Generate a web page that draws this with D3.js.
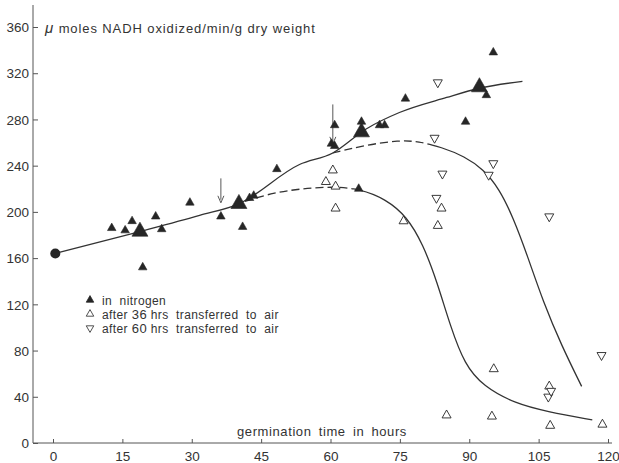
<!DOCTYPE html>
<html>
<head>
<meta charset="utf-8">
<script src="https://cdn.jsdelivr.net/npm/d3@7"></script>
<style>
  html, body { margin: 0; padding: 0; background: #fff; }
  svg text { font-family: "Liberation Sans", Arial, sans-serif; fill: #333; }
</style>
</head>
<body>
<div id="chart"></div>
<script>
// germination time (hours) / umol NADH oxidized per min per g dry weight
const start = [[0.5, 164]]
const nitrogen = [
  [12.7, 186], [15.6, 184], [17.1, 192], [19.4, 152], [22.2, 196], [23.5, 185],
  [29.6, 208], [36.3, 196], [41.0, 187], [42.5, 212], [43.4, 214], [48.4, 237],
  [60.2, 259], [60.9, 257], [60.9, 275], [66.1, 220], [66.7, 278], [70.6, 275],
  [71.7, 275], [76.2, 298], [89.2, 278], [93.7, 301], [95.2, 338]
]
const nitrogenMeans = [[18.8, 183], [40.2, 207], [66.7, 269], [92.2, 308]]
const air36 = [
  [59.0, 226], [60.5, 236], [61.1, 222], [61.1, 203], [75.8, 192], [83.2, 188],
  [84.0, 203], [85.1, 24], [94.9, 23], [95.3, 64], [107.3, 49], [107.5, 15], [118.8, 16]
]
const air60 = [
  [82.5, 264], [82.9, 212], [83.2, 312], [84.2, 233], [94.2, 232], [95.2, 242],
  [107.1, 40], [107.3, 196], [107.7, 45], [118.6, 76]
]

// fitted curves
const curveNitrogen = [
  [0.5, 164], [18.8, 183], [31.7, 197], [40.2, 207], [53.3, 241], [60.5, 251],
  [67.8, 272], [74.9, 286], [85.1, 299], [92.2, 307], [101.5, 313]
]
const curve60 = [
  [60.5, 251], [67.8, 258], [74.9, 262], [79, 261], [84, 256], [89, 248],
  [93, 237], [96.5, 220], [99.5, 195], [102.5, 163], [106, 122], [110, 84], [114.3, 49]
]
const curve36 = [
  [41.5, 209], [47, 216], [53.3, 220], [60.5, 222], [66.3, 220], [72, 211],
  [76.5, 196], [80, 172], [83, 140], [86, 100], [89, 68], [93, 49], [100, 34],
  [107, 27], [116.6, 20]
]
// hour where each fitted branch turns from dashed to solid
const dashEnd60 = 82
const dashEnd36 = 65

// transfer arrows: [hours, from, to]
const arrows = [[36.3, 229, 207], [60.5, 293, 258]]

const xTicks = [0, 15, 30, 45, 60, 75, 90, 105, 120]
const yTicks = [0, 40, 80, 120, 160, 200, 240, 280, 320, 360]

const width = 619
const height = 463
const ink = "#262626"

const svg = d3.select("#chart")
    .append("svg")
    .attr("width", width)
    .attr("height", height)

const x = d3.scaleLinear().domain([0, 120]).range([53, 608])
const y = d3.scaleLinear().domain([0, 360]).range([443, 27])

// axes
const xAxis = svg.append("g")
    .attr("transform", `translate(0,${y(0)})`)
    .call(d3.axisBottom(x).tickValues(xTicks).tickSize(-4).tickPadding(8))
xAxis.select(".domain").remove()
xAxis.selectAll("text").style("font-size", "13.5px")
xAxis.selectAll("line").attr("stroke", "#555")

const yAxis = svg.append("g")
    .attr("transform", "translate(33,0)")
    .call(d3.axisLeft(y).tickValues(yTicks).tickSize(-5).tickPadding(4))
yAxis.select(".domain").remove()
yAxis.selectAll("text").style("font-size", "13.5px").attr("dy", "0.35em")
yAxis.selectAll("line").attr("stroke", "#555")

svg.append("line")
    .attr("x1", 33).attr("x2", 33)
    .attr("y1", 5).attr("y2", y(0))
    .attr("stroke", "#555").attr("stroke-width", 1)
svg.append("line")
    .attr("x1", 33).attr("x2", 612)
    .attr("y1", y(0)).attr("y2", y(0))
    .attr("stroke", "#555").attr("stroke-width", 1)

// axis titles
const yTitle = svg.append("text")
    .attr("x", 45).attr("y", 33)
    .style("font-size", "13px")
    .style("letter-spacing", "0.9px")
yTitle.append("tspan").text("\u03bc").style("font-style", "italic").style("font-size", "15px")
yTitle.append("tspan").text(" moles  NADH oxidized/min/g dry weight")

svg.append("text")
    .attr("x", 237).attr("y", 436)
    .style("font-size", "13px")
    .style("letter-spacing", "0.6px")
    .style("word-spacing", "3px")
    .text("germination time in hours")

// curves
const line = d3.line()
    .x(d => x(d[0]))
    .y(d => y(d[1]))

svg.append("path")
    .attr("d", line.curve(d3.curveMonotoneX)(curveNitrogen))
    .attr("fill", "none")
    .attr("stroke", "#333")
    .attr("stroke-width", 1.3)

function branch(data, dashEnd) {
  const p = svg.append("path")
      .attr("d", line.curve(d3.curveBasis)(data))
      .attr("fill", "none")
      .attr("stroke", "#333")
      .attr("stroke-width", 1.3)
  const node = p.node()
  const total = node.getTotalLength()
  let lo = 0, hi = total
  for (let i = 0; i < 30; i++) {
    const mid = (lo + hi) / 2
    if (node.getPointAtLength(mid).x < x(dashEnd)) lo = mid
    else hi = mid
  }
  const dashes = []
  let run = 0
  while (run + 12 <= lo) { dashes.push(8, 4); run += 12 }
  dashes.push(lo - run + 0.01, 0, total, 0)
  p.attr("stroke-dasharray", dashes.join(","))
}
branch(curve60, dashEnd60)
branch(curve36, dashEnd36)

// arrows
const arrowG = svg.append("g")
arrows.forEach(([h, from, to]) => {
  arrowG.append("line")
      .attr("x1", x(h)).attr("x2", x(h))
      .attr("y1", y(from)).attr("y2", y(to) - 4)
      .attr("stroke", "#444").attr("stroke-width", 0.9)
  arrowG.append("path")
      .attr("d", `M${x(h) - 3},${y(to) - 8}L${x(h)},${y(to) - 1}L${x(h) + 3},${y(to) - 8}`)
      .attr("fill", "none").attr("stroke", "#444").attr("stroke-width", 0.9)
})

// markers
const tri = (s, down) => {
  const h = s * 0.88
  return down
    ? `M${-s / 2},${-h / 3}L${s / 2},${-h / 3}L0,${2 * h / 3}Z`
    : `M${-s / 2},${h / 3}L${s / 2},${h / 3}L0,${-2 * h / 3}Z`
}

function drawTriangles(data, size, filled, down) {
  svg.append("g").selectAll("path")
      .data(data)
      .join("path")
      .attr("transform", d => `translate(${x(d[0])},${y(d[1])})`)
      .attr("d", tri(size, down))
      .attr("fill", filled ? ink : "#fff")
      .attr("stroke", ink)
      .attr("stroke-width", filled ? 0.6 : 0.9)
}

drawTriangles(air36, 9, false, false)
drawTriangles(air60, 9, false, true)
drawTriangles(nitrogen, 8.5, true, false)
drawTriangles(nitrogenMeans, 16, true, false)

svg.append("g").selectAll("circle")
    .data(start)
    .join("circle")
    .attr("cx", d => x(d[0]))
    .attr("cy", d => y(d[1]))
    .attr("r", 5)
    .attr("fill", ink)

// legend
const legend = [
  { parts: ["in  nitrogen"], filled: true, down: false },
  { parts: ["after ", "36", " hrs  transferred  to  air"], filled: false, down: false },
  { parts: ["after ", "60", " hrs  transferred  to  air"], filled: false, down: true }
]
const lg = svg.append("g").attr("transform", "translate(90,300)")
legend.forEach((d, i) => {
  const row = lg.append("g").attr("transform", `translate(0,${i * 14})`)
  row.append("path")
      .attr("d", tri(7.5, d.down))
      .attr("fill", d.filled ? ink : "#fff")
      .attr("stroke", ink)
      .attr("stroke-width", 0.8)
  const t = row.append("text")
      .attr("x", 12).attr("y", 4.5)
      .style("font-size", "12px")
      .style("letter-spacing", "0.4px")
  d.parts.forEach(p => {
    t.append("tspan")
        .text(p)
        .style("font-size", /^\d+$/.test(p) ? "13px" : null)
        .attr("xml:space", "preserve")
  })
})
</script>
</body>
</html>
